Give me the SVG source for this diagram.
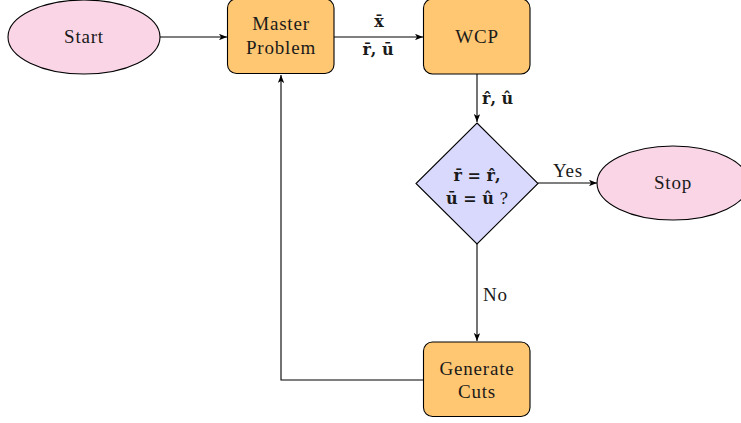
<svg xmlns="http://www.w3.org/2000/svg" width="741" height="423" viewBox="0 0 741 423">
  <style>
    .term { fill: #f9d5e6; stroke: #000; stroke-width: 1.1; }
    .proc { fill: #ffc772; stroke: #000; stroke-width: 1.1; }
    .dec { fill: #d9d9fe; stroke: #000; stroke-width: 1.1; }
    .edge { fill: none; stroke: #000; stroke-width: 1.1; marker-end: url(#arrow); }
    text { font-family: "Liberation Serif", "DejaVu Serif", serif; font-size: 19px; letter-spacing: 0.8px; fill: #1a1a1a; text-anchor: middle; }
    .math { font-family: "DejaVu Serif", "Liberation Serif", serif; font-size: 16px; letter-spacing: 0; font-weight: bold; }
    .plain { font-weight: normal; }
    .lbl { text-anchor: start; }
  </style>
  <defs>
    <marker id="arrow" viewBox="0 0 10 8" refX="10" refY="4" markerWidth="8" markerHeight="6.4" markerUnits="userSpaceOnUse" orient="auto">
      <path d="M0,0 L10,4 L0,8 L2.5,4 Z" fill="#000"/>
    </marker>
  </defs>

  <g id="connectors">
    <path class="edge" d="M160,37 H227"/>
    <path class="edge" d="M334,37 H423"/>
    <path class="edge" d="M477,74 V122"/>
    <path class="edge" d="M538,183 H597"/>
    <path class="edge" d="M477,244 V341"/>
    <path class="edge" d="M424,380 H281 V75"/>
    <text class="math" x="379" y="27">x̄</text>
    <text class="math" x="378" y="55">r̄, ū</text>
    <text class="math lbl" x="482" y="104">r̂, û</text>
    <text x="568" y="177">Yes</text>
    <text class="lbl" x="483" y="301">No</text>
  </g>

  <g id="start">
    <ellipse class="term" cx="84" cy="37" rx="76" ry="37"/>
    <text x="84" y="43">Start</text>
  </g>

  <g id="master">
    <rect class="proc" x="227.5" y="-1" width="106.5" height="74.5" rx="9"/>
    <text x="281" y="30">Master</text>
    <text x="281" y="54">Problem</text>
  </g>

  <g id="wcp">
    <rect class="proc" x="423.5" y="-1" width="106.5" height="75" rx="9"/>
    <text x="477" y="43">WCP</text>
  </g>

  <g id="check">
    <polygon class="dec" points="477,123 538,183.5 477,244 416,183.5"/>
    <text class="math" x="477" y="181">r̄ = r̂,</text>
    <text class="math" x="477" y="204">ū = û <tspan class="plain">?</tspan></text>
  </g>

  <g id="stop">
    <ellipse class="term" cx="673" cy="183" rx="76" ry="37"/>
    <text x="673" y="189">Stop</text>
  </g>

  <g id="cuts">
    <rect class="proc" x="423.5" y="342" width="106.5" height="74.5" rx="9"/>
    <text x="477" y="375">Generate</text>
    <text x="477" y="398">Cuts</text>
  </g>
</svg>
